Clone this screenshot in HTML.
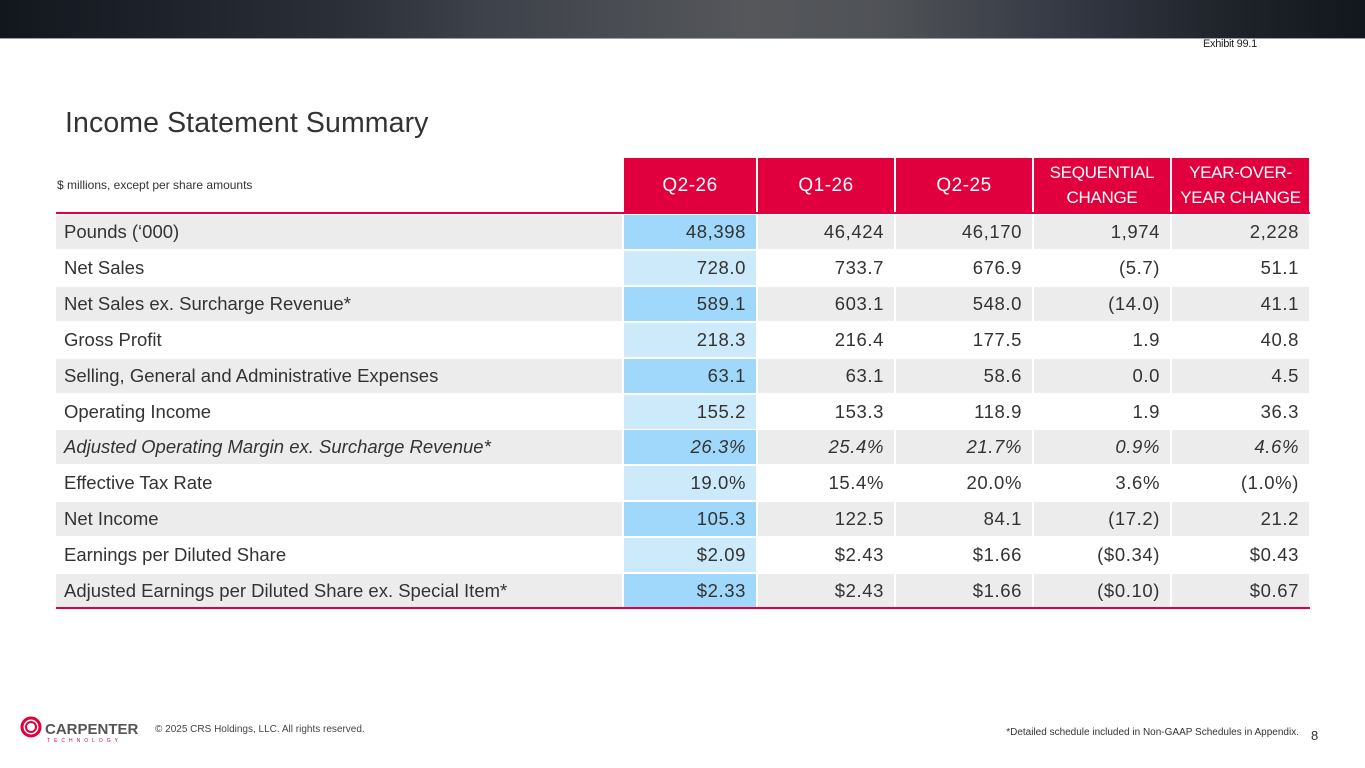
<!DOCTYPE html>
<html><head><meta charset="utf-8">
<style>
*{margin:0;padding:0;box-sizing:border-box}
body{width:1365px;height:768px;background:#fff;position:relative;overflow:hidden;font-family:"Liberation Sans",sans-serif;color:#333}
#topbar{position:absolute;left:0;top:0;width:1365px;height:39px;background:linear-gradient(90deg,#12171e 0%,#2b2f38 25%,#3d4149 35%,#55575b 55%,#4f5256 65%,#353944 78%,#1f232a 90%,#12171e 100%);border-bottom:1px solid #9aa0a8}
#exhibit{position:absolute;left:1203px;top:38px;font-size:11px;color:#222;letter-spacing:-0.3px}
#title{position:absolute;left:65px;top:107px;font-size:28.5px;color:#333;font-weight:normal;letter-spacing:0.1px}
.c{position:absolute;font-size:18.5px;line-height:34px;padding:0 10px;white-space:nowrap;color:#333}
.n{letter-spacing:0.6px;padding-right:10px}
.h{background:#e1003d;color:#fff;text-align:center;display:flex;align-items:center;justify-content:center;line-height:25px;font-size:19px;letter-spacing:0.5px;padding:0}
.h.s{font-size:17px;letter-spacing:-0.3px}
#units{position:absolute;left:57px;top:178px;font-size:12px;color:#333}
.line{position:absolute;left:56px;width:1254px;height:2px;background:#e1003d}
#foot1{position:absolute;left:155px;top:724px;font-size:10px;color:#444;white-space:nowrap}
#foot2{position:absolute;right:66px;top:727px;font-size:10px;color:#333;white-space:nowrap}
#pg{position:absolute;left:1311px;top:728px;font-size:13px;color:#333}
</style></head><body>
<div id="topbar"></div>
<div id="exhibit">Exhibit 99.1</div>
<div id="title">Income Statement Summary</div>
<div id="units">$ millions, except per share amounts</div>
<div id="tbl"></div>
<div class="line" style="top:212px"></div>
<div class="line" style="top:607px"></div>
<svg style="position:absolute;left:20px;top:716px" width="120" height="28">
<circle cx="11" cy="11" r="9" fill="none" stroke="#e1003d" stroke-width="3"/>
<circle cx="11" cy="11" r="5" fill="none" stroke="#e1003d" stroke-width="2"/>
<text x="25" y="18" font-family="Liberation Sans" font-size="15" font-weight="bold" fill="#555">CARPENTER</text>
<text x="27" y="26" font-family="Liberation Sans" font-size="5" letter-spacing="4" fill="#e1003d">TECHNOLOGY</text>
</svg>
<div id="foot1">© 2025 CRS Holdings, LLC. All rights reserved.</div>
<div id="foot2">*Detailed schedule included in Non-GAAP Schedules in Appendix.</div>
<div id="pg">8</div>
<script>
const headers=["Q2-26","Q1-26","Q2-25","SEQUENTIAL<br>CHANGE","YEAR-OVER-<br>YEAR CHANGE"];
const labels=["Pounds (‘000)","Net Sales","Net Sales ex. Surcharge Revenue*","Gross Profit","Selling, General and Administrative Expenses","Operating Income","Adjusted Operating Margin ex. Surcharge Revenue*","Effective Tax Rate","Net Income","Earnings per Diluted Share","Adjusted Earnings per Diluted Share ex. Special Item*"];
const q226=["48,398","728.0","589.1","218.3","63.1","155.2","26.3%","19.0%","105.3","$2.09","$2.33"];
const q126=["46,424","733.7","603.1","216.4","63.1","153.3","25.4%","15.4%","122.5","$2.43","$2.43"];
const q225=["46,170","676.9","548.0","177.5","58.6","118.9","21.7%","20.0%","84.1","$1.66","$1.66"];
const seq=["1,974","(5.7)","(14.0)","1.9","0.0","1.9","0.9%","3.6%","(17.2)","($0.34)","($0.10)"];
const yoy=["2,228","51.1","41.1","40.8","4.5","36.3","4.6%","(1.0%)","21.2","$0.43","$0.67"];
const colX=[56,624,758,896,1034,1172],colW=[566,132,136,136,136,137];
const tbl=document.getElementById('tbl');
headers.forEach((h,i)=>{
  const d=document.createElement('div');
  d.className=i>=3?'c h s':'c h';
  
  
  d.style.cssText=`left:${colX[i+1]}px;top:158px;width:${colW[i+1]}px;height:54px`;
  d.innerHTML=h;tbl.appendChild(d);
});
const cols=[q226,q126,q225,seq,yoy];
labels.forEach((l,r)=>{
  const y=215+r*35.9, odd=r%2===0;
  const ital=r===6?'font-style:italic;':'';
  const lab=document.createElement('div');
  lab.className='c';
  
  
  lab.style.cssText=`${ital}left:${colX[0]}px;top:${y}px;width:${colW[0]}px;height:34px;padding-left:8px;background:${odd?'#ececec':'#fff'}`;
  lab.textContent=l;tbl.appendChild(lab);
  cols.forEach((arr,i)=>{
    const d=document.createElement('div');
    d.className='c n';
    
    
    const bg=i===0?(odd?'#9fd8fb':'#cdeafb'):(odd?'#ececec':'#fff');
    d.style.cssText=`${ital}left:${colX[i+1]}px;top:${y}px;width:${colW[i+1]}px;height:34px;text-align:right;background:${bg}`;
    d.textContent=arr[r];tbl.appendChild(d);
  });
});
</script>
</body></html>
